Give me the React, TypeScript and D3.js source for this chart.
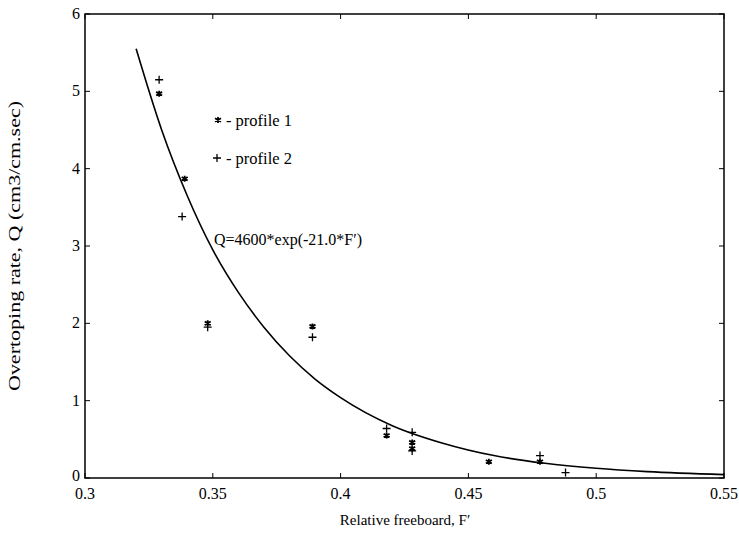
import React, { useEffect, useRef } from "react";
import * as d3 from "d3";

// profile 1 (asterisks)
const p1F = [0.329, 0.339, 0.348, 0.389, 0.418, 0.428, 0.428, 0.458, 0.478];
const p1Q = [4.97, 3.87, 2.0, 1.96, 0.55, 0.46, 0.38, 0.21, 0.21];
// profile 2 (plus signs)
const p2F = [0.329, 0.338, 0.348, 0.389, 0.418, 0.428, 0.428, 0.478, 0.488];
const p2Q = [5.15, 3.38, 1.95, 1.82, 0.64, 0.59, 0.35, 0.29, 0.07];
// fitted curve
const fitF = [0.32, 0.33, 0.34, 0.35, 0.36, 0.37, 0.38, 0.39, 0.4, 0.42, 0.44, 0.46, 0.48, 0.5, 0.52, 0.55];
const fitQ = [5.55, 4.5, 3.65, 2.95, 2.4, 1.95, 1.58, 1.28, 1.04, 0.68, 0.45, 0.29, 0.19, 0.126, 0.083, 0.044];

const xTicks = [0.3, 0.35, 0.4, 0.45, 0.5, 0.55];
const yTicks = [0, 1, 2, 3, 4, 5, 6];

const W = 739;
const H = 543;
const FONT = "'Liberation Serif', 'DejaVu Serif', serif";

export default function App() {
  const ref = useRef<SVGSVGElement>(null);

  useEffect(() => {
    document.body.style.margin = "0";
    const svg = d3.select(ref.current);
    svg.selectAll("*").remove();

    const x = d3.scaleLinear().domain([0.3, 0.55]).range([85, 724]);
    const y = d3.scaleLinear().domain([0, 6]).range([478, 14]);

    const g = svg.append("g");

    // frame
    g.append("rect")
      .attr("x", x(0.3))
      .attr("y", y(6))
      .attr("width", x(0.55) - x(0.3))
      .attr("height", y(0) - y(6))
      .attr("fill", "none")
      .attr("stroke", "#000")
      .attr("stroke-width", 1.5);

    // inward ticks on all sides
    const tl = 5;
    xTicks.forEach((t) => {
      g.append("line").attr("x1", x(t)).attr("x2", x(t)).attr("y1", y(0)).attr("y2", y(0) - tl).attr("stroke", "#000");
      g.append("line").attr("x1", x(t)).attr("x2", x(t)).attr("y1", y(6)).attr("y2", y(6) + tl).attr("stroke", "#000");
    });
    yTicks.forEach((t) => {
      g.append("line").attr("x1", x(0.3)).attr("x2", x(0.3) + tl).attr("y1", y(t)).attr("y2", y(t)).attr("stroke", "#000");
      g.append("line").attr("x1", x(0.55)).attr("x2", x(0.55) - tl).attr("y1", y(t)).attr("y2", y(t)).attr("stroke", "#000");
    });

    // tick labels
    g.selectAll(".xt")
      .data(xTicks)
      .enter()
      .append("text")
      .attr("x", (d) => x(d))
      .attr("y", y(0) + 21)
      .attr("text-anchor", "middle")
      .attr("font-family", FONT)
      .attr("font-size", 16)
      .text((d) => String(d));

    g.selectAll(".yt")
      .data(yTicks)
      .enter()
      .append("text")
      .attr("x", x(0.3) - 5)
      .attr("y", (d) => y(d) + (d === 0 ? 3 : 5))
      .attr("text-anchor", "end")
      .attr("font-family", FONT)
      .attr("font-size", 16)
      .text((d) => String(d));

    // axis titles
    g.append("text")
      .attr("x", 405)
      .attr("y", 525)
      .attr("text-anchor", "middle")
      .attr("font-family", FONT)
      .attr("font-size", 15)
      .text("Relative freeboard, F\u2032");

    g.append("text")
      .attr("transform", "translate(20,246) rotate(-90)")
      .attr("text-anchor", "middle")
      .attr("font-family", FONT)
      .attr("font-size", 16)
      .attr("textLength", 290)
      .attr("lengthAdjust", "spacingAndGlyphs")
      .text("Overtoping rate, Q (cm3/cm.sec)");

    // fitted curve
    const line = d3
      .line<number>()
      .x((d) => x(d))
      .y((_, i) => y(fitQ[i]))
      .curve(d3.curveMonotoneX);
    g.append("path")
      .attr("d", line(fitF))
      .attr("fill", "none")
      .attr("stroke", "#000")
      .attr("stroke-width", 1.6);

    // markers
    const star = (cx: number, cy: number) => {
      const r = 3;
      const p = d3.path();
      p.moveTo(cx, cy - r); p.lineTo(cx, cy + r);
      p.moveTo(cx - r, cy - r * 0.6); p.lineTo(cx + r, cy + r * 0.6);
      p.moveTo(cx - r, cy + r * 0.6); p.lineTo(cx + r, cy - r * 0.6);
      return p.toString();
    };
    const plus = (cx: number, cy: number) => {
      const r = 4;
      const p = d3.path();
      p.moveTo(cx - r, cy); p.lineTo(cx + r, cy);
      p.moveTo(cx, cy - r); p.lineTo(cx, cy + r);
      return p.toString();
    };

    p1F.forEach((f, i) => {
      g.append("path").attr("d", star(x(f), y(p1Q[i]))).attr("stroke", "#000").attr("stroke-width", 1.8).attr("fill", "none");
    });
    p2F.forEach((f, i) => {
      g.append("path").attr("d", plus(x(f), y(p2Q[i]))).attr("stroke", "#000").attr("stroke-width", 1.3).attr("fill", "none");
    });

    // legend text annotations
    g.append("path").attr("d", star(218, 120)).attr("stroke", "#000").attr("stroke-width", 1.8).attr("fill", "none");
    g.append("text").attr("x", 226).attr("y", 126).attr("font-family", FONT).attr("font-size", 16.5).text("- profile 1");
    g.append("path").attr("d", plus(217, 158)).attr("stroke", "#000").attr("stroke-width", 1.3).attr("fill", "none");
    g.append("text").attr("x", 226).attr("y", 164).attr("font-family", FONT).attr("font-size", 16.5).text("- profile 2");

    g.append("text")
      .attr("x", 214)
      .attr("y", 245)
      .attr("font-family", FONT)
      .attr("font-size", 16)
      .text("Q=4600*exp(-21.0*F\u2032)");
  }, []);

  return <svg ref={ref} width={W} height={H} style={{ display: "block", background: "#fff" }} />;
}
